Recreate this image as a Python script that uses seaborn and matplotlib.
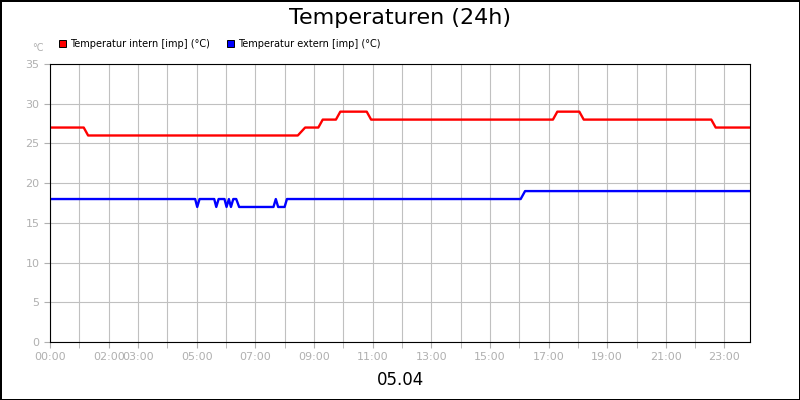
import matplotlib
matplotlib.use("Agg")
import matplotlib.pyplot as plt
import seaborn as sns
import pandas as pd

# hours since 00:00, temperature in degC
t_intern = [0, 1.15, 1.3, 8.45, 8.7, 9.15, 9.3, 9.75, 9.9, 10.8, 10.95, 17.15, 17.3, 18.05, 18.2, 22.55, 22.7, 23.87]
v_intern = [27, 27, 26, 26, 27, 27, 28, 28, 29, 29, 28, 28, 29, 29, 28, 28, 27, 27]

t_extern = [0, 4.95, 5.02, 5.1, 5.6, 5.67, 5.75, 5.95, 6.02, 6.1, 6.17, 6.25, 6.35, 6.45,
            7.62, 7.7, 7.78, 7.86, 8.0, 8.08, 16.05, 16.2, 23.87]
v_extern = [18, 18, 17, 18, 18, 17, 18, 18, 17, 18, 17, 18, 18, 17,
            17, 18, 17, 17, 17, 18, 18, 19, 19]

tick_hours = [0, 2, 3, 5, 7, 9, 11, 13, 15, 17, 19, 21, 23]
tick_labels = ["00:00", "02:00", "03:00", "05:00", "07:00", "09:00", "11:00",
               "13:00", "15:00", "17:00", "19:00", "21:00", "23:00"]

df = pd.concat([
    pd.DataFrame({"h": t_intern, "v": v_intern, "s": "Temperatur intern [imp] (°C)"}),
    pd.DataFrame({"h": t_extern, "v": v_extern, "s": "Temperatur extern [imp] (°C)"}),
])

fig = plt.figure(figsize=(8, 4), dpi=100)
fig.patch.set_edgecolor("black")
fig.patch.set_linewidth(2)
ax = fig.add_axes([50/800, 58/400, 700/800, 278/400])

sns.lineplot(data=df, x="h", y="v", hue="s", sort=False, estimator=None,
             palette=["#ff0000", "#0000ff"], linewidth=1.7, ax=ax, legend=False)

ax.set_xlim(0, 23.87)
ax.set_ylim(0, 35)
ax.set_xticks(range(24), minor=True)
ax.set_xticks(tick_hours)
ax.set_xticklabels(tick_labels)
ax.set_yticks(range(0, 36, 5))
ax.grid(True, which="both", color="#c0c0c0", linewidth=0.8)
ax.set_axisbelow(True)
ax.tick_params(colors="#b0b0b0", labelsize=8, which="both", length=4)
for sp in ax.spines.values():
    sp.set_color("black")
ax.set_xlabel("")
ax.set_ylabel("")

fig.text(0.5, 0.955, "Temperaturen (24h)", ha="center", va="center", fontsize=16)
fig.text(0.5, 0.05, "05.04", ha="center", va="center", fontsize=12)
fig.text(44/800, 0.88, "°C", ha="right", va="center", fontsize=7, color="#b0b0b0")

# legend
fig.patches.append(plt.Rectangle((59/800, 1 - 47/400), 7/800, 7/400, transform=fig.transFigure,
                                 facecolor="#ff0000", edgecolor="black", linewidth=0.7))
fig.text(70/800, 1 - 44/400, "Temperatur intern [imp] (°C)", fontsize=7, va="center")
fig.patches.append(plt.Rectangle((227/800, 1 - 47/400), 7/800, 7/400, transform=fig.transFigure,
                                 facecolor="#0000ff", edgecolor="black", linewidth=0.7))
fig.text(238/800, 1 - 44/400, "Temperatur extern [imp] (°C)", fontsize=7, va="center")

fig.savefig("out.png", dpi=100, edgecolor=fig.get_edgecolor())
